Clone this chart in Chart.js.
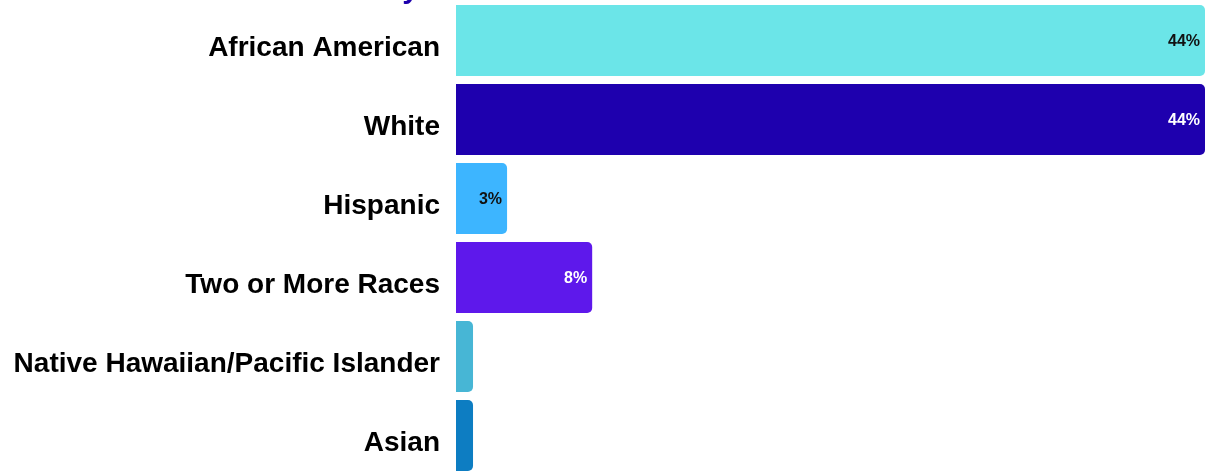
<!DOCTYPE html>
<html>
<head>
<meta charset="utf-8">
<script src="https://cdn.jsdelivr.net/npm/chart.js@4"></script>
<style>
  html, body { margin: 0; padding: 0; background: #fff; overflow: hidden; }
  #wrap { position: relative; width: 1207px; height: 480px; }
  #title { position: absolute; right: 788px; top: -29px; margin: 0; font: bold 30px "Liberation Sans", Arial, sans-serif; line-height: 34px; color: #1d00ad; white-space: nowrap; }
  canvas { display: block; }
</style>
</head>
<body>
<div id="wrap">
  <h2 id="title">Race/Ethnicity</h2>
  <canvas id="barChart" width="1207" height="480"></canvas>
</div>
<script>
// categories and values
const categories = ['African American', 'White', 'Hispanic', 'Two or More Races', 'Native Hawaiian/Pacific Islander', 'Asian'];
const percents = [44, 44, 3, 8, 1, 1];
const barColors = ['#6be5e8', '#1e00ae', '#3db5ff', '#5e18eb', '#47b6d5', '#0d7dc2'];
const labelColors = ['#111111', '#ffffff', '#111111', '#ffffff', '#111111', '#ffffff'];

// value labels at the end of each bar
const endLabels = {
    id: 'endLabels',
    afterDatasetsDraw(chart) {
        const ctx = chart.ctx;
        const meta = chart.getDatasetMeta(0);
        ctx.save();
        ctx.font = 'bold 16px "Liberation Sans", Arial, sans-serif';
        ctx.textAlign = 'right';
        ctx.textBaseline = 'middle';
        meta.data.forEach((bar, i) => {
            if (percents[i] < 2) return;
            ctx.fillStyle = labelColors[i];
            ctx.fillText(percents[i] + '%', bar.x - 5, bar.y + 1);
        });
        ctx.restore();
    }
};

const ctx = document.getElementById('barChart');

window.chart = new Chart(ctx, {
    type: 'bar',
    data: {
        labels: categories,
        datasets: [{
            data: percents,
            backgroundColor: barColors,
            borderRadius: { topLeft: 0, bottomLeft: 0, topRight: 5, bottomRight: 5 },
            borderSkipped: false,
            barPercentage: 0.9,
            categoryPercentage: 1
        }]
    },
    options: {
        indexAxis: 'y',
        responsive: false,
        animation: false,
        layout: { padding: { top: 1, right: 2, bottom: 5, left: 0 } },
        plugins: {
            legend: { display: false },
            tooltip: { enabled: false }
        },
        scales: {
            x: {
                display: false,
                min: 0,
                max: 44
            },
            y: {
                grid: { display: false },
                border: { display: false },
                ticks: {
                    color: '#000',
                    padding: 8,
                    labelOffset: 8,
                    font: { family: '"Liberation Sans", Arial, sans-serif', size: 28, weight: 'bold' }
                },
                afterFit(axis) {
                    axis.width = 456;
                    axis.paddingTop = 0;
                    axis.paddingBottom = 0;
                }
            }
        }
    },
    plugins: [endLabels]
});
</script>
</body>
</html>
